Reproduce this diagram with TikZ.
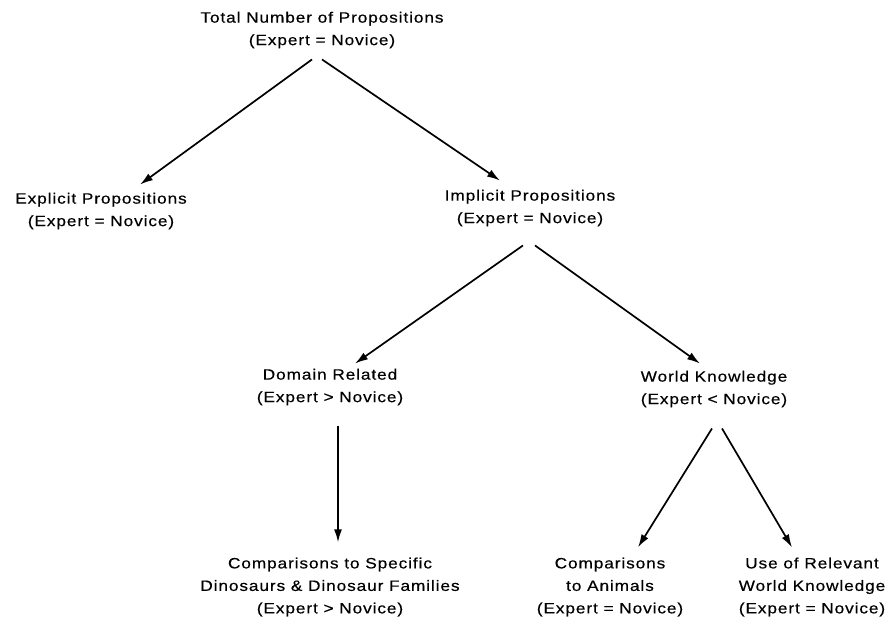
\documentclass[tikz,border=0pt]{standalone}
\usepackage{fontspec}
\setmainfont{Liberation Sans}[FakeStretch=1.15,LetterSpace=6.0,FakeBold=0.4]
\usetikzlibrary{arrows.meta}
\tikzset{
  >={Latex[length=13pt,width=8pt]},
  prop/.style = {align=center, inner sep=2pt,
                 font=\fontsize{15}{22.5}\selectfont},
  link/.style = {line width=1.7pt, ->},
}

\begin{document}
\begin{tikzpicture}[x=1pt,y=-1pt]
\useasboundingbox (0,0) rectangle (891,630);
\node[prop] (tot) at (322,30) {Total Number of Propositions\\(Expert = Novice)};
\node[prop] (expl) at (101,211) {Explicit Propositions\\(Expert = Novice)};
\node[prop] (impl) at (530,208) {Implicit Propositions\\(Expert = Novice)};
\node[prop] (dom) at (330,387) {Domain Related\\(Expert > Novice)};
\node[prop] (world) at (714,389) {World Knowledge\\(Expert < Novice)};
\node[prop] (spec) at (330,587) {Comparisons to Specific\\Dinosaurs \& Dinosaur Families\\(Expert > Novice)};
\node[prop] (anim) at (610,587) {Comparisons\\to Animals\\(Expert = Novice)};
\node[prop] (use) at (812,587) {Use of Relevant\\World Knowledge\\(Expert = Novice)};
\path[link] ([xshift=-10pt,yshift=-9pt]tot.south) edge ([xshift=39pt,yshift=6pt]expl.north);
\path[link] ([yshift=-9pt]tot.south) edge ([xshift=-30pt,yshift=7pt]impl.north);
\path[link] ([xshift=-7pt,yshift=-17pt]impl.south) edge ([xshift=25pt,yshift=3pt]dom.north);
\path[link] ([xshift=5pt,yshift=-17pt]impl.south) edge ([xshift=-14pt,yshift=5pt]world.north);
\path[link] ([xshift=8pt,yshift=-19pt]dom.south) edge ([xshift=8pt,yshift=13pt]spec.north);
\path[link] ([xshift=-2pt,yshift=-19pt]world.south) edge ([xshift=28pt,yshift=8pt]anim.north);
\path[link] ([xshift=8pt,yshift=-19pt]world.south) edge ([xshift=-20pt,yshift=8pt]use.north);
\end{tikzpicture}
\end{document}
